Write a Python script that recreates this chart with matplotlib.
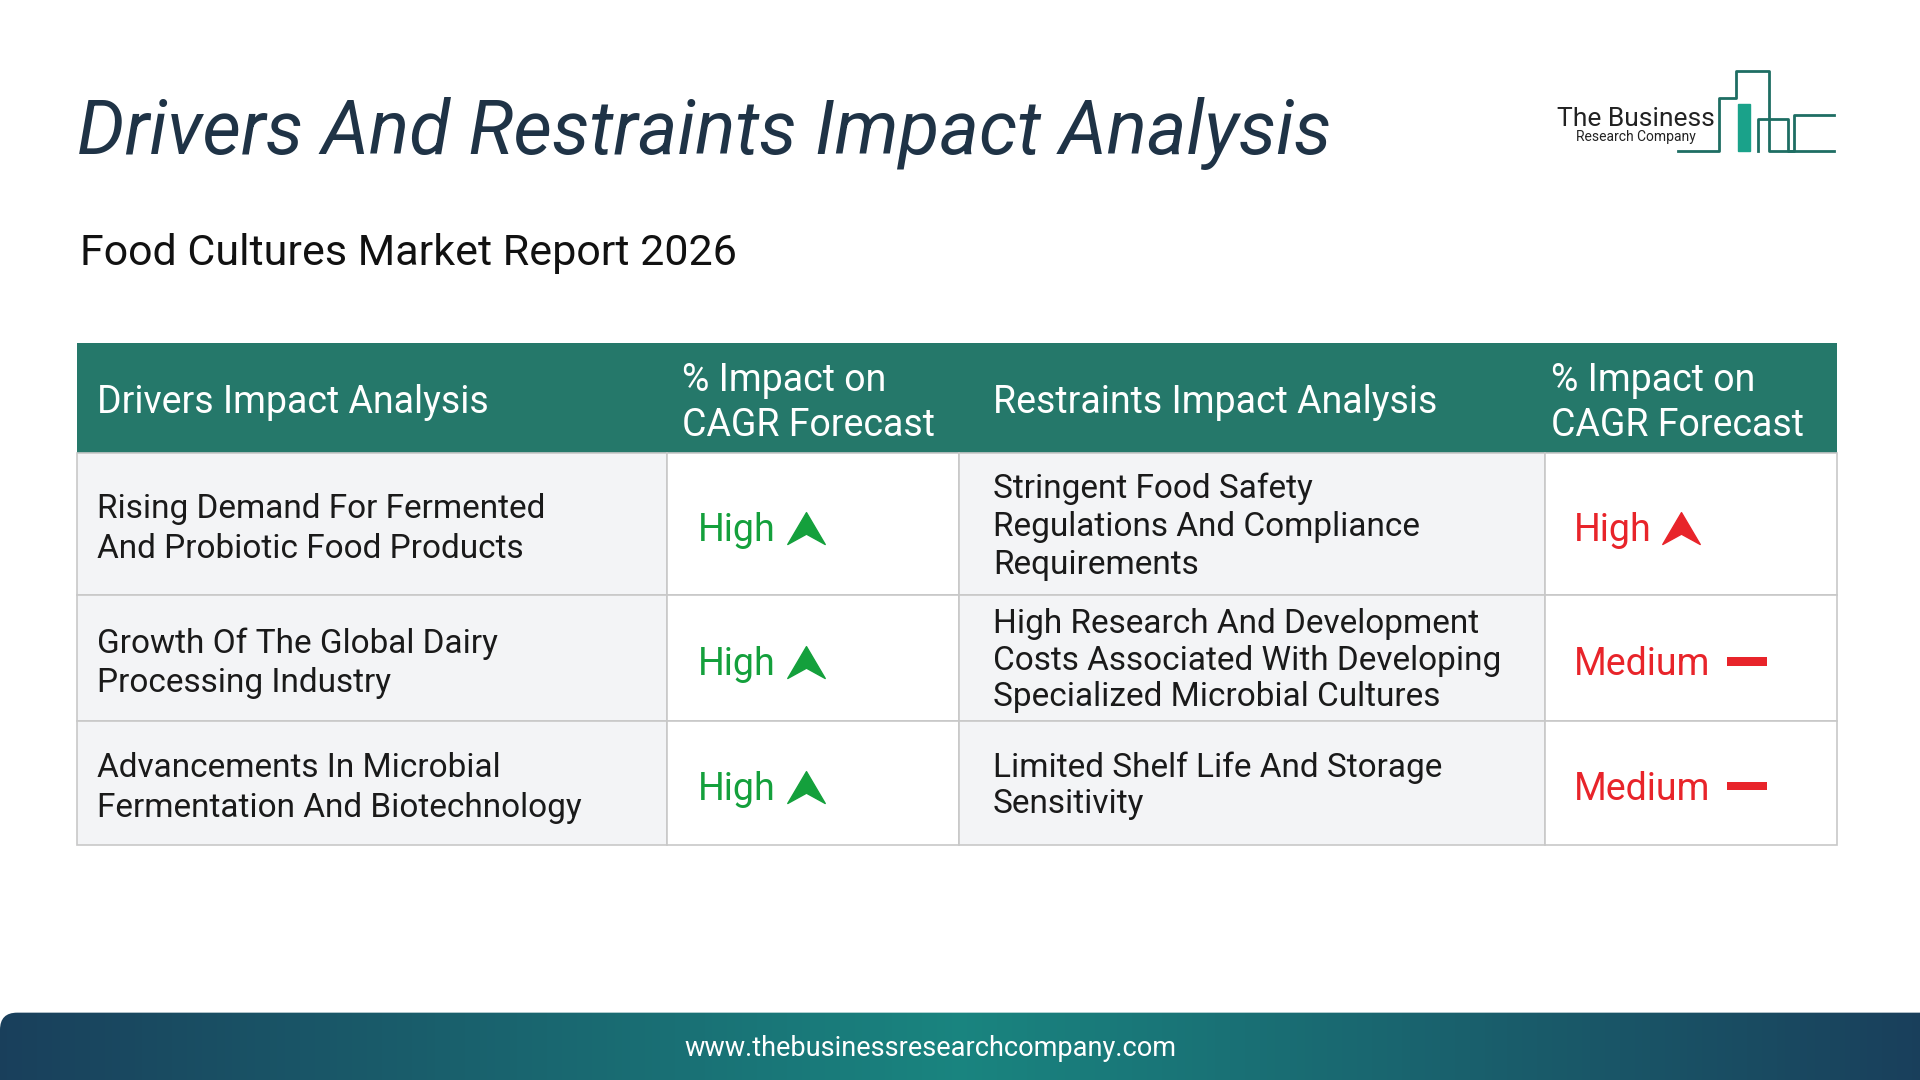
import numpy as np
import matplotlib.pyplot as plt
from matplotlib.patches import Rectangle, FancyBboxPatch
from matplotlib.path import Path

plt.rcParams['font.family'] = ['Roboto', 'DejaVu Sans']

title = "Drivers And Restraints Impact Analysis"
subtitle = "Food Cultures Market Report 2026"
headers = ["Drivers Impact Analysis", "% Impact on\nCAGR Forecast",
           "Restraints Impact Analysis", "% Impact on\nCAGR Forecast"]
drivers = ["Rising Demand For Fermented\nAnd Probiotic Food Products",
           "Growth Of The Global Dairy\nProcessing Industry",
           "Advancements In Microbial\nFermentation And Biotechnology"]
driver_impact = ["High", "High", "High"]
restraints = ["Stringent Food Safety\nRegulations And Compliance\nRequirements",
              "High Research And Development\nCosts Associated With Developing\nSpecialized Microbial Cultures",
              "Limited Shelf Life And Storage\nSensitivity"]
restraint_impact = ["High", "Medium", "Medium"]
footer = "www.thebusinessresearchcompany.com"

W, H = 1568, 882
fig = plt.figure(figsize=(19.2, 10.8), dpi=100)
ax = fig.add_axes([0, 0, 1, 1])
ax.set_xlim(0, W)
ax.set_ylim(H, 0)
ax.axis('off')

ax.text(63, 109, title, fontsize=54, style='italic', color='#1f3346', va='center')
ax.text(65, 207, subtitle, fontsize=31, color='#111111', va='center')

# logo
ax.text(1336, 97, "The Business", fontsize=19, color='#222222', ha='center', va='center')
ax.text(1336, 112, "Research Company", fontsize=10, color='#222222', ha='center', va='center')
lg = '#1e6e63'
ax.plot([1370, 1404, 1404, 1418, 1418, 1445, 1445, 1465, 1465, 1498],
        [123, 123, 80, 80, 58, 58, 123, 123, 94, 94], color=lg, lw=2)
ax.add_patch(Rectangle((1419, 85), 10, 38, color='#1aa28a'))
ax.plot([1436, 1436, 1460, 1460, 1498], [123, 97, 97, 123, 123], color=lg, lw=2)

# table
xs = [63, 545, 783, 1262, 1500]
ys = [280, 370, 486, 589, 690]
head_c = '#25786a'
ax.add_patch(Rectangle((xs[0], ys[0]), xs[-1] - xs[0], ys[1] - ys[0], color=head_c, lw=0))
hx = [79, 557, 811, 1267]
for j, h in enumerate(headers):
    ax.text(hx[j], (ys[0] + ys[1]) / 2 + 4, h, fontsize=27,
            color='white', va='center', linespacing=1.3)

up = Path([(-1, -0.8), (0, 0.9), (1, -0.8), (0, -0.25), (-1, -0.8)],
          [Path.MOVETO, Path.LINETO, Path.LINETO, Path.LINETO, Path.CLOSEPOLY])
green, red = '#14a03c', '#e8242a'
for i in range(3):
    y0, y1 = ys[i + 1], ys[i + 2]
    yc = (y0 + y1) / 2
    for j in range(4):
        fc = '#f3f4f6' if j % 2 == 0 else 'white'
        ax.add_patch(Rectangle((xs[j], y0), xs[j + 1] - xs[j], y1 - y0,
                               fc=fc, ec='#c8c8c8', lw=1.2))
    ax.text(79, yc + 4, drivers[i], fontsize=24, color='#1a1a1a', va='center', linespacing=1.3)
    ax.text(811, yc + 2, restraints[i], fontsize=24, color='#1a1a1a', va='center',
            linespacing=1.25 if i == 0 else 1.18)
    for x, lab, col in [(570, driver_impact[i], green), (1285, restraint_impact[i], red)]:
        ax.text(x, yc + 5, lab, fontsize=27, color=col, va='center')
        if lab == "High":
            ax.plot(x + 88, yc + 4, marker=up, ms=27, color=col, mec=col)
        else:
            ax.add_patch(Rectangle((1410, yc - 1), 33, 7, color=col, lw=0))

# footer gradient
grad = np.linspace(0, 1, 256)
cols = np.array([[0.10, 0.25, 0.36], [0.10, 0.52, 0.50]])
tt = np.abs(grad - 0.5) * 2
img = (cols[1][None, :] * (1 - tt[:, None]) + cols[0][None, :] * tt[:, None])[None, :, :]
im = ax.imshow(img, extent=(0, W, H, 827), aspect='auto', zorder=1)
clip = FancyBboxPatch((0, 827), W + 40, 80, boxstyle='round,pad=0,rounding_size=14',
                      transform=ax.transData, fc='none', ec='none')
ax.add_patch(clip)
im.set_clip_path(clip)
ax.set_xlim(0, W)
ax.set_ylim(H, 0)
ax.text(760, 856, footer, fontsize=19.5, color='white', ha='center', va='center', zorder=2)

fig.savefig('out.png', dpi=100)
